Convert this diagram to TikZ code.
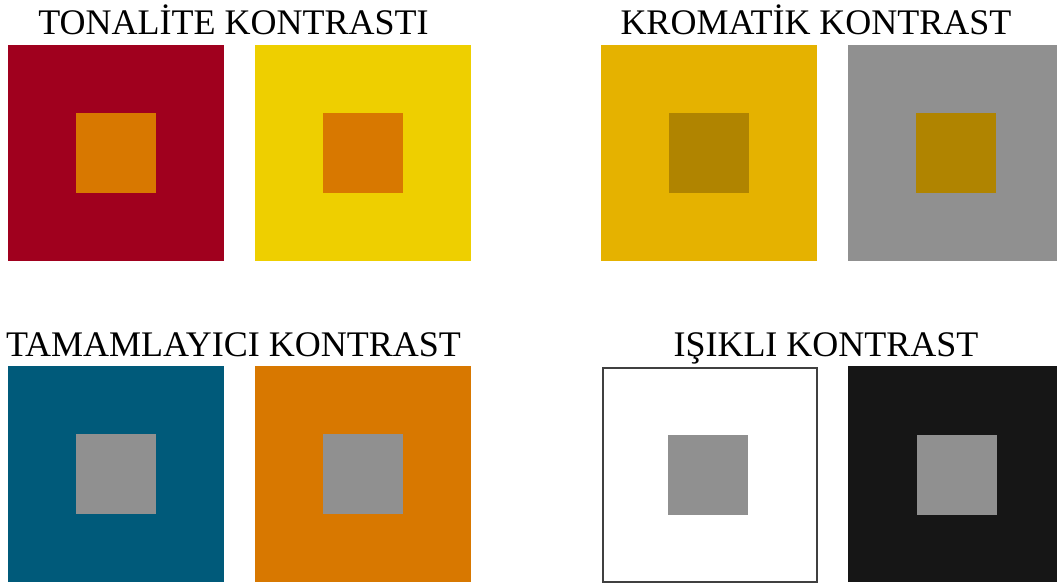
\documentclass[tikz,border=0pt]{standalone}
\usepackage{fontspec}
\setmainfont{Liberation Serif}
\definecolor{cred}{HTML}{A0001E}
\definecolor{corange}{HTML}{D87800}
\definecolor{cyellow}{HTML}{EECF00}
\definecolor{cgold}{HTML}{E5B200}
\definecolor{cdgold}{HTML}{B08400}
\definecolor{cgray}{HTML}{909090}
\definecolor{cblue}{HTML}{005A7A}
\definecolor{cblack}{HTML}{161616}
\begin{document}
\begin{tikzpicture}[x=1pt,y=-1pt,
  title/.style={anchor=base,inner sep=0pt,font=\fontsize{36}{42}\selectfont},
  outer/.style={draw=none,minimum width=216pt,minimum height=216pt,anchor=north west,inner sep=0pt},
  inner/.style={draw=none,minimum width=80pt,minimum height=80pt,anchor=north west,inner sep=0pt}]
\useasboundingbox (0,0) rectangle (1057,585);
% titles
\node[title] (t1) at (233.5,35) {TONALİTE KONTRASTI};
\node[title] (t2) at (816,35) {KROMATİK KONTRAST};
\node[title] (t3) at (233.5,356.5) {TAMAMLAYICI KONTRAST};
\node[title] (t4) at (826,356.5) {IŞIKLI KONTRAST};
% top row
\node[outer,fill=cred] (a1) at (8,44.5) {};
\node[inner,fill=corange] (a1i) at (76,112.5) {};
\node[outer,fill=cyellow] (a2) at (254.5,44.5) {};
\node[inner,fill=corange] (a2i) at (322.5,112.5) {};
\node[outer,fill=cgold] (a3) at (601,44.5) {};
\node[inner,fill=cdgold] (a3i) at (669,112.5) {};
\node[outer,fill=cgray] (a4) at (848,44.5) {};
\node[inner,fill=cdgold] (a4i) at (916,112.5) {};
% bottom row
\node[outer,fill=cblue] (b1) at (8,365.5) {};
\node[inner,fill=cgray] (b1i) at (76,434) {};
\node[outer,fill=corange] (b2) at (254.5,365.5) {};
\node[inner,fill=cgray] (b2i) at (322.5,434) {};
\node[outer,fill=white,draw=black!75,line width=2pt,minimum width=214pt,minimum height=214pt] (b3) at (602,366.5) {};
\node[inner,fill=cgray] (b3i) at (668,435) {};
\node[outer,fill=cblack] (b4) at (848,365.5) {};
\node[inner,fill=cgray] (b4i) at (917,435) {};
\end{tikzpicture}
\end{document}
